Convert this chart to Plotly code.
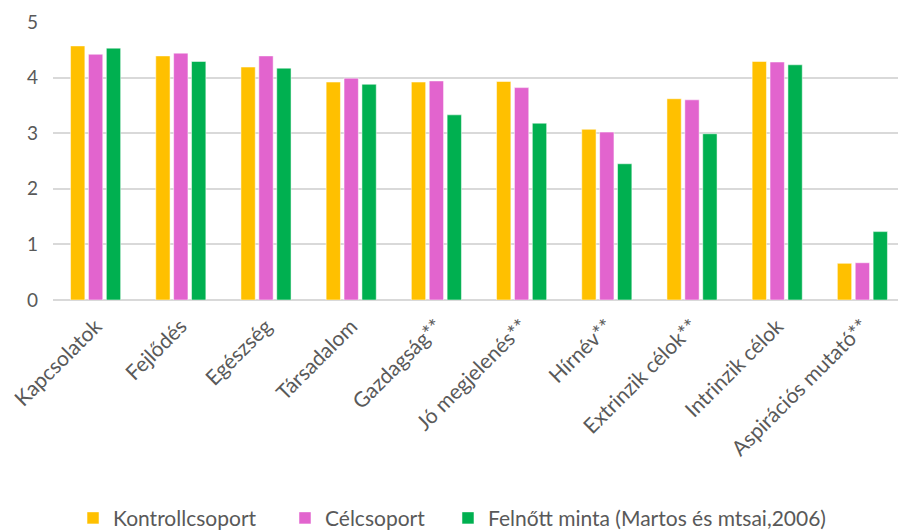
import plotly.graph_objects as go

categories = ["Kapcsolatok", "Fejlődés", "Egészség", "Társadalom", "Gazdagság**",
              "Jó megjelenés**", "Hírnév**", "Extrinzik célok**", "Intrinzik célok",
              "Aspirációs mutató**"]
kontroll = [4.57, 4.39, 4.19, 3.92, 3.92, 3.93, 3.07, 3.62, 4.29, 0.66]
cel = [4.42, 4.44, 4.39, 3.99, 3.94, 3.82, 3.02, 3.60, 4.28, 0.67]
felnott = [4.53, 4.29, 4.17, 3.88, 3.33, 3.18, 2.45, 2.99, 4.23, 1.23]
series_names = ["Kontrollcsoport", "Célcsoport", "Felnőtt minta (Martos és mtsai,2006)"]
colors = ["#FFC000", "#E264CE", "#00B050"]
legend_ids = ["legend", "legend2", "legend3"]
legend_x = [0.0235, 0.2723, 0.4636]

fig = go.Figure()
for name, vals, col, lg in zip(series_names, [kontroll, cel, felnott], colors, legend_ids):
    fig.add_trace(go.Bar(x=categories, y=vals, name=name, legend=lg,
                         marker=dict(color=col, line=dict(color="rgba(255,255,255,0.5)", width=1))))

font_family = "Lato, Open Sans, sans-serif"
legend_common = dict(orientation="h", y=-0.785, yanchor="middle", xanchor="left",
                     font=dict(size=21, color="#595959", family=font_family),
                     itemwidth=30, bgcolor="rgba(0,0,0,0)")
fig.update_layout(
    width=898, height=522,
    margin=dict(l=45, r=1, t=14, b=230, autoexpand=False),
    paper_bgcolor="white", plot_bgcolor="white",
    barmode="group", bargap=0.37, bargroupgap=0.2,
    font=dict(family=font_family, color="#595959", size=18),
    showlegend=True,
    legend=dict(x=legend_x[0], **legend_common),
    legend2=dict(x=legend_x[1], **legend_common),
    legend3=dict(x=legend_x[2], **legend_common),
)
fig.update_yaxes(range=[0, 5], dtick=1, showgrid=True, gridcolor="#D9D9D9", gridwidth=1.7,
                 zeroline=True, zerolinecolor="#D9D9D9", zerolinewidth=1.7,
                 tickfont=dict(size=19, color="#595959"), ticks="", ticklabelstandoff=14,
                 automargin=False)
fig.update_xaxes(tickangle=-45, tickfont=dict(size=21, color="#595959"), showline=False,
                 ticks="", ticklabelstandoff=9, automargin=False)

fig.write_html("out.html")
